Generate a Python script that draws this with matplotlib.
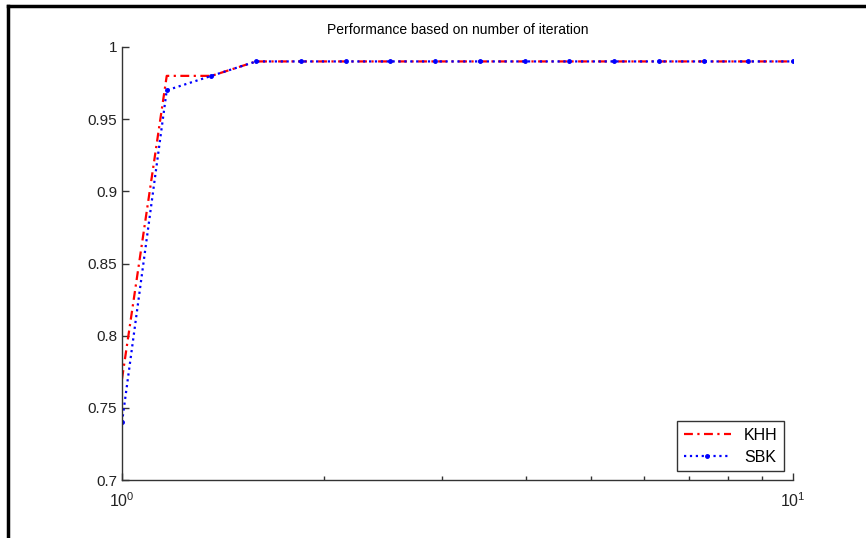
import numpy as np
import matplotlib
matplotlib.use('Agg')
import matplotlib.pyplot as plt
from matplotlib.lines import Line2D
from matplotlib.ticker import FixedLocator, LogLocator, NullFormatter

# iterations (log spaced), performance of each method
iterations = np.logspace(0, 1, 16)
khh = [0.77, 0.98, 0.98, 0.99, 0.99, 0.99, 0.99, 0.99,
       0.99, 0.99, 0.99, 0.99, 0.99, 0.99, 0.99, 0.99]
sbk = [0.74, 0.97, 0.98, 0.99, 0.99, 0.99, 0.99, 0.99,
       0.99, 0.99, 0.99, 0.99, 0.99, 0.99, 0.99, 0.99]
yticks = [0.7, 0.75, 0.8, 0.85, 0.9, 0.95, 1.0]
ytick_labels = ['0.7', '0.75', '0.8', '0.85', '0.9', '0.95', '1']

plt.rcParams['font.family'] = ['Liberation Sans', 'DejaVu Sans']
plt.rcParams['mathtext.fontset'] = 'custom'
plt.rcParams['mathtext.rm'] = 'Liberation Sans'

fig = plt.figure(figsize=(8.66, 5.38), dpi=100)
ax = fig.add_axes([122 / 866, 58 / 538, 671 / 866, 433 / 538])

ax.semilogx(iterations, khh, color='red', linestyle=(0, (4, 2, 1, 2)), linewidth=1.6, label='KHH')
ax.semilogx(iterations, sbk, color='blue', linestyle=':', linewidth=1.6,
            marker='.', markersize=5, label='SBK')

ax.set_xlim(1, 10)
ax.set_ylim(0.7, 1.0)
ax.set_yticks(yticks)
ax.set_yticklabels(ytick_labels)
ax.xaxis.set_major_locator(FixedLocator([1, 10]))
ax.set_xticklabels(['$10^{0}$', '$10^{1}$'])
ax.xaxis.set_minor_locator(LogLocator(base=10, subs=np.arange(2, 10)))
ax.xaxis.set_minor_formatter(NullFormatter())

for side in ['top', 'right']:
    ax.spines[side].set_visible(False)
for side in ['left', 'bottom']:
    ax.spines[side].set_color('#333333')
    ax.spines[side].set_linewidth(1.0)

ax.tick_params(which='major', direction='in', length=5, width=1, labelsize=11,
               colors='#333333', labelcolor='#222222')
ax.tick_params(which='minor', direction='in', length=3, width=1, colors='#333333')
ax.tick_params(axis='x', which='major', pad=8, labelsize=11.5)

ax.set_title('Performance based on number of iteration', fontsize=10, pad=9)

leg = ax.legend(loc='lower right', fancybox=False, edgecolor='#333333', framealpha=1,
                fontsize=11.5, borderaxespad=0.55, handlelength=3.0, labelspacing=0.45)
leg.get_frame().set_linewidth(1.0)

# outer frame lines (left and top)
fig.add_artist(Line2D([8 / 866, 8 / 866], [0, 1 - 6 / 538], transform=fig.transFigure,
                      color='black', linewidth=2.5, solid_capstyle='projecting'))
fig.add_artist(Line2D([8 / 866, 1], [1 - 6 / 538, 1 - 6 / 538], transform=fig.transFigure,
                      color='black', linewidth=2.5, solid_capstyle='projecting'))

fig.savefig('out.png', dpi=100)
